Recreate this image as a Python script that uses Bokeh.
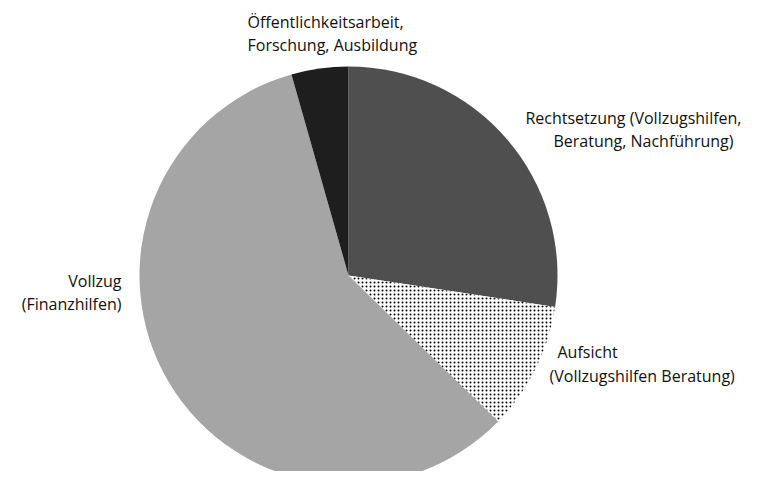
import math
from bokeh.plotting import figure
from bokeh.models import Range1d, ColumnDataSource
from bokeh.core.properties import value
from bokeh.embed import file_html
from bokeh.resources import INLINE

# Data
categories = ["Rechtsetzung (Vollzugshilfen, Beratung, Nachführung)",
              "Aufsicht (Vollzugshilfen Beratung)",
              "Vollzug (Finanzhilfen)",
              "Öffentlichkeitsarbeit, Forschung, Ausbildung"]
shares = [27.4, 9.9, 58.3, 4.4]
colors = ["#4f4f4f", "#ffffff", "#a5a5a5", "#1e1e1e"]
hatches = [" ", ".", " ", " "]

label_lines = [
    ["Rechtsetzung (Vollzugshilfen,", "Beratung, Nachführung)"],
    ["Aufsicht", "(Vollzugshilfen Beratung)"],
    ["Vollzug", "(Finanzhilfen)"],
    ["Öffentlichkeitsarbeit,", "Forschung, Ausbildung"],
]

W, H = 744, 471

def Y(img_y):
    return H - img_y

p = figure(width=W, height=H, output_backend="svg", toolbar_location=None,
           x_range=Range1d(0, W), y_range=Range1d(0, H), min_border=0)
p.axis.visible = False
p.grid.visible = False
p.outline_line_color = None
p.background_fill_color = "white"

total = sum(shares)
starts, ends = [], []
cum = 0.0
for s in shares:
    starts.append(math.pi / 2 - cum / total * 2 * math.pi)
    cum += s
    ends.append(math.pi / 2 - cum / total * 2 * math.pi)

cx, cy, r = 348, Y(275), 209
src = ColumnDataSource(dict(x=[cx] * 4, y=[cy] * 4, start=starts, end=ends,
                            color=colors, hatch=hatches, cat=categories))
p.wedge(x="x", y="y", radius=r, radius_units="screen", start_angle="start",
        end_angle="end", direction="clock", fill_color="color", line_color=None,
        hatch_pattern="hatch", hatch_color="black", hatch_scale=4, hatch_weight=3.2,
        source=src)

# label layout (image pixel coords), kept inside the 744px canvas
layout = [
    ((741, 117, "right"), (733, 140, "right")),
    ((557, 351, "left"), (549, 375, "left")),
    ((121, 280, "right"), (121, 303, "right")),
    ((247, 21, "left"), (247, 44, "left")),
]
sizes = ["16px", "16px", "16px", "16px"]
for lines, pos, fs in zip(label_lines, layout, sizes):
    for txt, (x, y, al) in zip(lines, pos):
        p.text(x=[x], y=[Y(y)], text=[txt], text_align=al, text_baseline="middle",
               text_font=value("Open Sans"), text_font_size=fs, text_color="#111111")

open("out.html", "w").write(file_html(p, INLINE))
